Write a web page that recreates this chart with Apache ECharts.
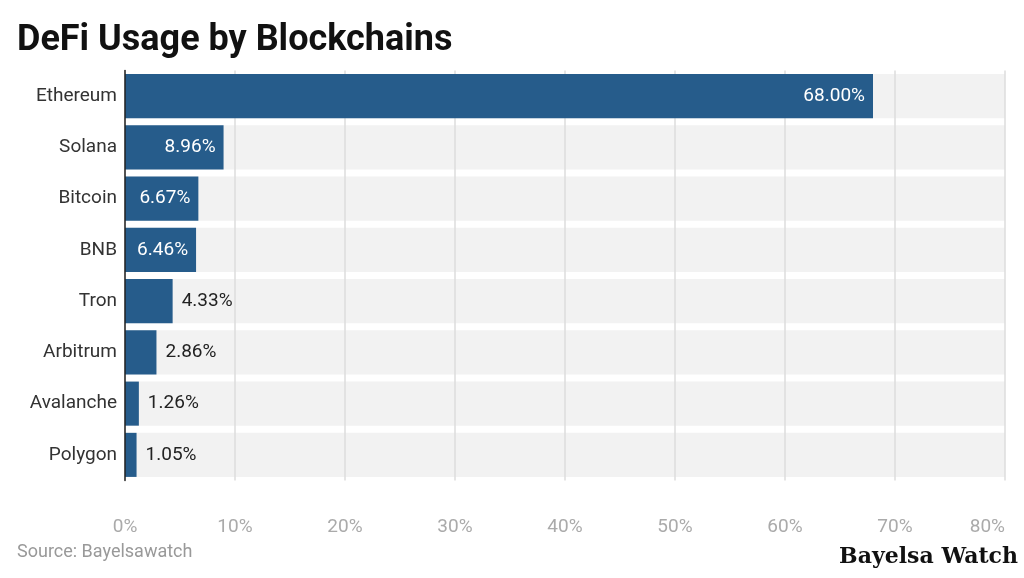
<!DOCTYPE html>
<html><head><meta charset="utf-8">
<script src="https://cdn.jsdelivr.net/npm/echarts@6/dist/echarts.min.js"></script>
<style>html,body{margin:0;padding:0;background:#fff}#c{width:1024px;height:578px}</style>
</head><body><div id="c"></div>
<script>
const categories = ["Ethereum","Solana","Bitcoin","BNB","Tron","Arbitrum","Avalanche","Polygon"];
const values = [68.00, 8.96, 6.67, 6.46, 4.33, 2.86, 1.26, 1.05];
const xTicks = [0,10,20,30,40,50,60,70,80];
const insideThreshold = 5;

const chart = echarts.init(document.getElementById('c'), null, {renderer:'canvas'});
const font = 'Roboto, "Noto Sans", sans-serif';
const xMax = xTicks[xTicks.length-1];
chart.setOption({
  animation:false,
  backgroundColor:'#fff',
  title:[
    {text:'DeFi Usage by Blockchains', left:12, top:18, textStyle:{fontFamily:font, fontWeight:'bold', fontSize:36, color:'#111'}},
    {text:'Source: Bayelsawatch', left:12, top:538, textStyle:{fontFamily:font, fontWeight:'normal', fontSize:18, color:'#999'}},
    {text:'Bayelsa Watch', right:1, top:541, textStyle:{fontFamily:'"DejaVu Serif", "Liberation Serif", serif', fontWeight:'bold', fontSize:22, color:'#111'}}
  ],
  grid:{left:125, right:19, top:70.5, bottom:97.5, containLabel:false},
  xAxis:{type:'value', min:0, max:xMax, interval:10, z:1,
    axisLine:{show:false}, axisTick:{show:false},
    axisLabel:{formatter:'{value}%', color:'#aaa', fontSize:19, fontFamily:font, margin:37, alignMaxLabel:'right'},
    splitLine:{show:true, lineStyle:{color:'#dcdcdc', width:1.5}}},
  yAxis:{type:'category', data:categories, inverse:true, z:3,
    axisLine:{show:true, lineStyle:{color:'#222', width:1.5}}, axisTick:{show:false},
    axisLabel:{color:'#333', fontSize:19, fontFamily:font, margin:8}},
  series:[
    {type:'bar', z:0, silent:true, barWidth:'86%', barGap:'-100%',
     data:categories.map(()=>xMax), itemStyle:{color:'#f2f2f2'}, label:{show:false}},
    {type:'bar', z:2, barWidth:'86%', barGap:'-100%',
     itemStyle:{color:'#265c8b'},
     data:values.map(v=>({value:v, label: v>insideThreshold
        ? {show:true, position:'insideRight', color:'#fff', distance:8}
        : {show:true, position:'right', color:'#222', distance:9}})),
     label:{show:true, fontSize:19, fontFamily:font, formatter:p=>p.value.toFixed(2)+'%'}}
  ]
});
</script></body></html>
